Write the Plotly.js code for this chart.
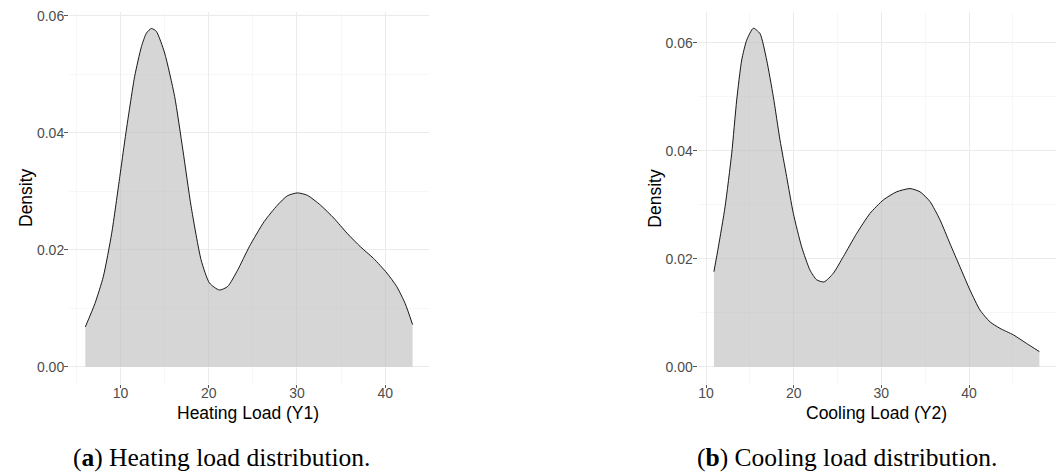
<!DOCTYPE html>
<html>
<head>
<meta charset="utf-8">
<script src="https://cdn.plot.ly/plotly-3.0.1.min.js"></script>
<style>
  html, body { margin: 0; padding: 0; background: #ffffff; }
  #chart { width: 1060px; height: 472px; }
</style>
</head>
<body>
<div id="chart"></div>
<script>
// Heating load (Y1) density
const heatX = [6.01, 7.1, 8.05, 9.0, 9.92, 10.5, 11.05, 11.6, 12.37, 12.93, 13.5, 14.06, 15.0, 16.13, 17.07, 18.0, 19.14, 20.08, 21.2, 22.14, 23.27, 24.59, 26.28, 27.78, 28.9, 30.04, 31.17, 32.67, 34.17, 35.68, 37.18, 38.68, 40.19, 41.3, 42.26, 43.1];
const heatY = [0.0068, 0.0108, 0.0154, 0.0228, 0.0325, 0.0388, 0.0444, 0.0496, 0.0547, 0.0570, 0.0578, 0.0573, 0.0536, 0.0462, 0.0370, 0.0274, 0.0182, 0.0143, 0.0131, 0.0137, 0.0165, 0.0205, 0.0248, 0.0276, 0.0292, 0.0297, 0.0293, 0.0276, 0.0254, 0.0228, 0.0205, 0.0185, 0.0160, 0.0137, 0.0108, 0.0072];

// Cooling load (Y2) density
const coolX = [10.9, 11.41, 12.17, 12.93, 13.5, 14.07, 14.64, 15.4, 16.16, 16.92, 17.68, 18.44, 19.2, 19.96, 20.91, 21.86, 22.62, 23.46, 24.52, 25.67, 27.19, 28.71, 30.23, 31.75, 33.27, 34.41, 35.55, 36.69, 37.83, 38.97, 40.11, 41.25, 42.4, 43.54, 45.06, 46.58, 48.03];
const coolY = [0.0176, 0.0222, 0.0296, 0.0395, 0.0494, 0.0568, 0.0605, 0.0627, 0.0617, 0.0568, 0.0500, 0.0420, 0.0352, 0.0284, 0.0222, 0.0179, 0.0161, 0.0157, 0.0173, 0.0204, 0.0247, 0.0284, 0.0309, 0.0324, 0.0330, 0.0324, 0.0306, 0.0272, 0.0228, 0.0185, 0.0142, 0.0105, 0.0083, 0.0071, 0.0059, 0.0043, 0.0028];

const xTitles = ["Heating Load (Y1)", "Cooling Load (Y2)"];
const yTitle = "Density";
const captions = ["(<b>a</b>) Heating load distribution.", "(<b>b</b>) Cooling load distribution."];

const W = 1060, H = 472;
const px = v => v / W;
const py = v => 1 - v / H;

const curveStyle = {
  mode: 'lines',
  fill: 'tozeroy',
  fillcolor: 'rgba(185,185,185,0.58)',
  line: { color: '#000000', width: 0.9, shape: 'spline', smoothing: 0.6 },
  hoverinfo: 'skip',
  showlegend: false
};

const traces = [
  Object.assign({ x: heatX, y: heatY, xaxis: 'x', yaxis: 'y' }, curveStyle),
  Object.assign({ x: coolX, y: coolY, xaxis: 'x2', yaxis: 'y2' }, curveStyle)
];

const tickFont = { family: 'Liberation Sans, Arial, sans-serif', size: 14, color: '#4D4D4D' };

function xAxis(domain, range, anchor) {
  return {
    domain: domain, range: range, anchor: anchor,
    dtick: 10, tick0: 0,
    showgrid: true, gridcolor: '#EBEBEB', gridwidth: 1,
    minor: { dtick: 5, tick0: 0, showgrid: true, gridcolor: '#F3F3F3', gridwidth: 0.7, ticks: '' },
    zeroline: false, showline: false,
    ticks: 'outside', ticklen: 3, tickwidth: 1, tickcolor: '#555555',
    ticklabelstandoff: -6,
    tickfont: tickFont, fixedrange: true
  };
}
function yAxis(domain, range, anchor) {
  return {
    domain: domain, range: range, anchor: anchor,
    dtick: 0.02, tick0: 0, tickformat: '.2f',
    showgrid: true, gridcolor: '#EBEBEB', gridwidth: 1,
    minor: { dtick: 0.01, tick0: 0, showgrid: true, gridcolor: '#F3F3F3', gridwidth: 0.7, ticks: '' },
    zeroline: false, showline: false,
    ticks: 'outside', ticklen: 4, tickwidth: 1, tickcolor: '#555555',
    ticklabelstandoff: -3,
    tickfont: tickFont, fixedrange: true
  };
}

const yDomain = [py(383.6), py(11.5)];

const layout = {
  width: W, height: H,
  margin: { l: 0, r: 0, t: 0, b: 0, pad: 0 },
  paper_bgcolor: '#ffffff', plot_bgcolor: '#ffffff',
  showlegend: false,
  xaxis: xAxis([px(69), px(428.9)], [4.16, 44.95], 'y'),
  yaxis: yAxis(yDomain, [-0.00289, 0.0607], 'x'),
  xaxis2: xAxis([px(697.6), px(1055.7)], [9.04, 49.89], 'y2'),
  yaxis2: yAxis(yDomain, [-0.00313, 0.0658], 'x2'),
  annotations: [
    { text: xTitles[0], xref: 'paper', yref: 'paper', x: px(248), y: py(413), xanchor: 'center', yanchor: 'middle', showarrow: false,
      font: { family: 'Liberation Sans, Arial, sans-serif', size: 17.5, color: '#000000' } },
    { text: xTitles[1], xref: 'paper', yref: 'paper', x: px(876.5), y: py(413), xanchor: 'center', yanchor: 'middle', showarrow: false,
      font: { family: 'Liberation Sans, Arial, sans-serif', size: 17.5, color: '#000000' } },
    { text: yTitle, xref: 'paper', yref: 'paper', x: px(26), y: py(198), xanchor: 'center', yanchor: 'middle', textangle: -90, showarrow: false,
      font: { family: 'Liberation Sans, Arial, sans-serif', size: 17.5, color: '#000000' } },
    { text: yTitle, xref: 'paper', yref: 'paper', x: px(654.7), y: py(198), xanchor: 'center', yanchor: 'middle', textangle: -90, showarrow: false,
      font: { family: 'Liberation Sans, Arial, sans-serif', size: 17.5, color: '#000000' } },
    { text: captions[0], xref: 'paper', yref: 'paper', x: px(221), y: py(457.5), xanchor: 'center', yanchor: 'middle', showarrow: false,
      font: { family: 'Liberation Serif, Times New Roman, serif', size: 25.5, color: '#000000' } },
    { text: captions[1], xref: 'paper', yref: 'paper', x: px(847), y: py(457.5), xanchor: 'center', yanchor: 'middle', showarrow: false,
      font: { family: 'Liberation Serif, Times New Roman, serif', size: 25.5, color: '#000000' } }
  ]
};

Plotly.newPlot('chart', traces, layout, { staticPlot: true, displayModeBar: false });
</script>
</body>
</html>
